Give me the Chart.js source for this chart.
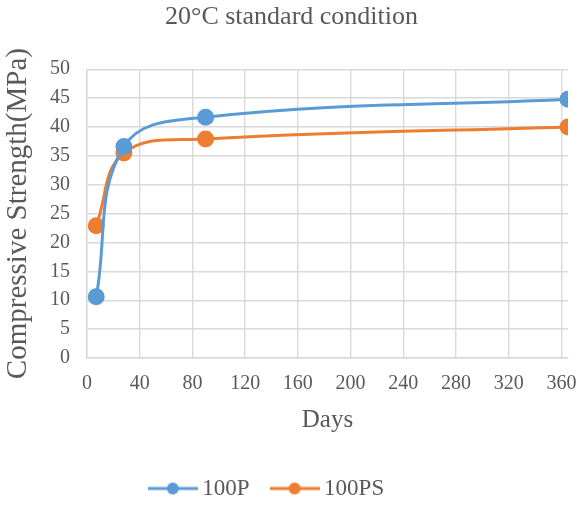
<!DOCTYPE html>
<html>
<head>
<meta charset="utf-8">
<script src="https://cdn.jsdelivr.net/npm/chart.js@4"></script>
<style>
  html, body { margin: 0; padding: 0; background: #fff; }
  #wrap { width: 583px; height: 507px; }
</style>
</head>
<body>
<div id="wrap"><canvas id="chart" width="583" height="507"></canvas></div>
<script>
// Données
const days = [7, 28, 90, 365];
const values100P = [10.6, 36.6, 41.7, 44.8];
const values100PS = [22.9, 35.5, 37.9, 40.0];
const xTicks = [0, 40, 80, 120, 160, 200, 240, 280, 320, 360];
const yTicks = [0, 5, 10, 15, 20, 25, 30, 35, 40, 45, 50];

const blue = '#5B9BD5';
const orange = '#ED7D31';
const textColor = '#595959';
const gridColor = '#D9D9D9';
const font = 'Liberation Serif';

// petite icône ligne + point pour la légende
function legendIcon(color) {
    const c = document.createElement('canvas');
    c.width = 50; c.height = 14;
    const ctx = c.getContext('2d');
    ctx.strokeStyle = color;
    ctx.lineWidth = 3;
    ctx.beginPath();
    ctx.moveTo(0, 7); ctx.lineTo(50, 7);
    ctx.stroke();
    ctx.fillStyle = color;
    ctx.beginPath();
    ctx.arc(25, 7, 6, 0, Math.PI * 2);
    ctx.fill();
    return c;
}

// la légende est un peu décalée vers la gauche dans l'original
const legendShift = {
    id: 'legendShift',
    afterLayout(chart) {
        if (chart.legend) {
            chart.legend.left -= 22;
            chart.legend.right -= 22;
        }
    }
};

const toXY = (arr) => arr.map((v, i) => ({ x: days[i], y: v }));

new Chart(document.getElementById('chart'), {
    type: 'line',
    data: {
        datasets: [
            {
                label: '100P',
                data: toXY(values100P),
                borderColor: blue,
                backgroundColor: blue,
                borderWidth: 3,
                pointRadius: 7,
                pointHoverRadius: 7,
                tension: 0.4,
                fill: false
            },
            {
                label: '100PS',
                data: toXY(values100PS),
                borderColor: orange,
                backgroundColor: orange,
                borderWidth: 3,
                pointRadius: 7,
                pointHoverRadius: 7,
                tension: 0.4,
                fill: false
            }
        ]
    },
    plugins: [legendShift],
    options: {
        responsive: false,
        animation: false,
        layout: { padding: { left: 0, right: 0, top: 0, bottom: -3 } },
        plugins: {
            title: {
                display: true,
                text: '20°C standard condition',
                color: textColor,
                font: { family: font, size: 26, weight: 'normal' },
                padding: { top: 2, bottom: 36 }
            },
            legend: {
                position: 'bottom',
                labels: {
                    color: textColor,
                    font: { family: font, size: 23, lineHeight: 1.0 },
                    usePointStyle: true,
                    pointStyleWidth: 36,
                    boxHeight: 14,
                    padding: 27,
                    generateLabels: (chart) => chart.data.datasets.map((ds, i) => ({
                        text: ds.label,
                        fillStyle: ds.borderColor,
                        strokeStyle: ds.borderColor,
                        pointStyle: legendIcon(ds.borderColor),
                        datasetIndex: i,
                        fontColor: textColor
                    }))
                }
            },
            tooltip: { enabled: false }
        },
        scales: {
            x: {
                type: 'linear',
                min: 0,
                max: 365,
                afterBuildTicks: (axis) => { axis.ticks = xTicks.map(v => ({ value: v })); },
                // la marge auto ajoute le padding des ticks à droite, on la réduit
                afterFit: (axis) => { axis.paddingRight = 15; axis.paddingLeft = 0; },
                ticks: {
                    color: textColor,
                    font: { family: font, size: 20 },
                    maxRotation: 0,
                    autoSkip: false,
                    padding: 14
                },
                grid: { color: gridColor, lineWidth: 1.4, drawTicks: false },
                border: { color: gridColor, width: 1.4 },
                title: {
                    display: true,
                    text: 'Days',
                    color: textColor,
                    font: { family: font, size: 25, lineHeight: 0.8 },
                    padding: { top: 0, bottom: 20 }
                }
            },
            y: {
                min: 0,
                max: 50,
                afterBuildTicks: (axis) => { axis.ticks = yTicks.map(v => ({ value: v })); },
                ticks: {
                    color: textColor,
                    font: { family: font, size: 20 },
                    autoSkip: false,
                    padding: 17
                },
                grid: { color: gridColor, lineWidth: 1.4, drawTicks: false },
                border: { color: gridColor, width: 1.4 },
                title: {
                    display: true,
                    text: 'Compressive Strength(MPa)',
                    color: textColor,
                    font: { family: font, size: 29, lineHeight: 1.0 },
                    padding: { top: 4, bottom: 0 }
                }
            }
        }
    }
});
</script>
</body>
</html>
